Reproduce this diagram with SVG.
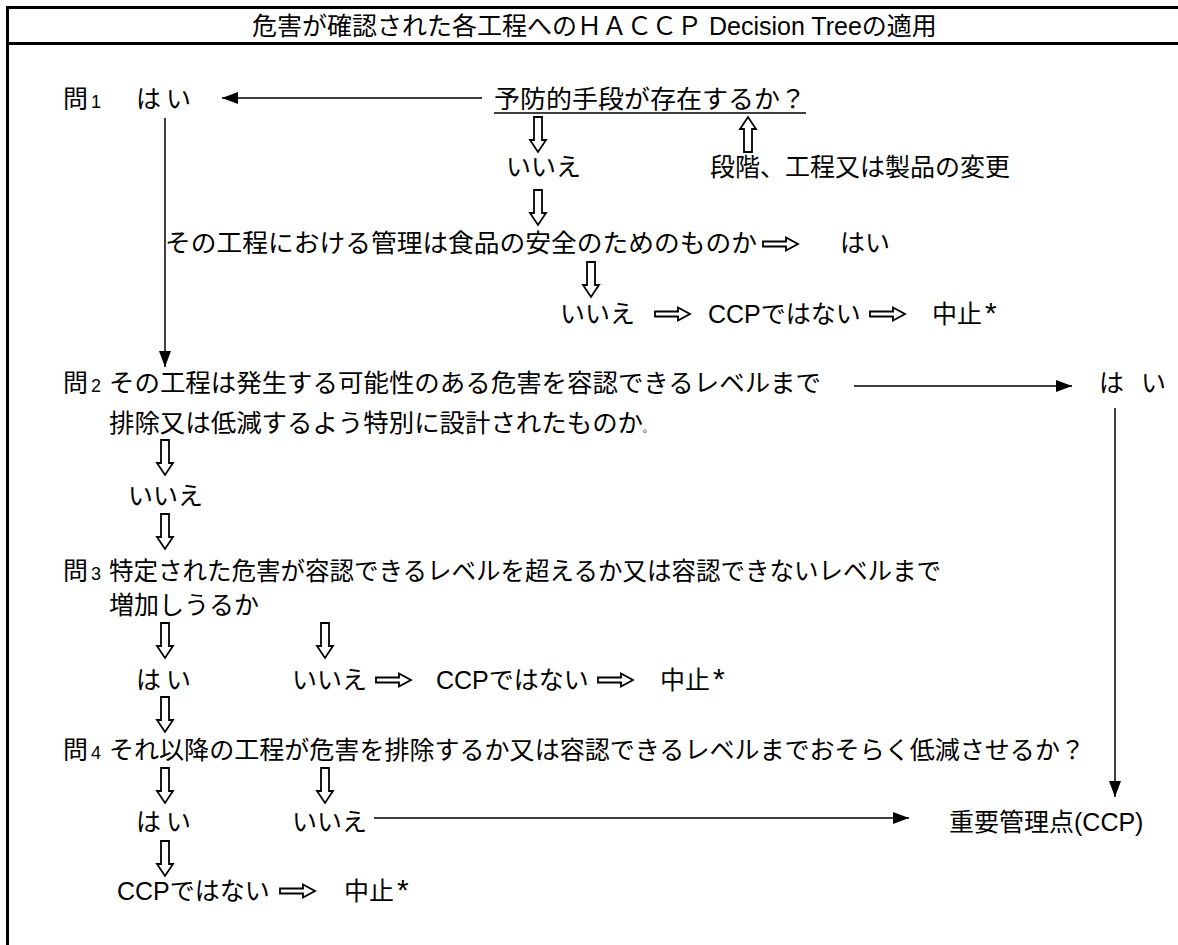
<svg xmlns="http://www.w3.org/2000/svg" width="1178" height="945" viewBox="0 0 1178 945">
<style>
text { font-family: "Liberation Sans", "Noto Sans CJK JP", sans-serif; font-size: 25px; fill: #000; }
.num { font-size: 18px; }
.ast { font-size: 30px; }
.frame { stroke: #000; stroke-width: 3; fill: none; }
.conn { stroke: #000; stroke-width: 1.5; fill: none; }
.hollow { stroke: #000; stroke-width: 1.8; fill: #fff; }
</style>
<defs>
<marker id="ah" viewBox="0 0 16 12" refX="16" refY="6" markerWidth="16" markerHeight="12" markerUnits="userSpaceOnUse" orient="auto">
<path d="M0,0 L16,6 L0,12 Z" fill="#000"/>
</marker>
<path id="hd" d="M-4,0 H4 V23 H8 L0,35 L-8,23 H-4 Z"/>
<path id="hu" d="M-4,35 H4 V12 H8 L0,0 L-8,12 H-4 Z"/>
<path id="hr" d="M0,-2.5 H23 V-6.5 L35,0 L23,6.5 V2.5 H0 Z"/>
</defs>

<g id="frame">
<line class="frame" x1="6" y1="7.5" x2="1178" y2="7.5"/>
<line class="frame" x1="6" y1="43.5" x2="1178" y2="43.5"/>
<line class="frame" x1="7.5" y1="6" x2="7.5" y2="945"/>
</g>

<g id="title"><text x="252" y="35">危害が確認された各工程へのＨＡＣＣＰ Decision Treeの適用</text></g>

<g id="connectors">
<line class="conn" x1="482" y1="98" x2="222" y2="98" marker-end="url(#ah)"/>
<line class="conn" x1="165" y1="118" x2="165" y2="367" marker-end="url(#ah)"/>
<line class="conn" x1="854" y1="386" x2="1072" y2="386" marker-end="url(#ah)"/>
<line class="conn" x1="1115" y1="408" x2="1115" y2="797" marker-end="url(#ah)"/>
<line class="conn" x1="374" y1="818" x2="909" y2="818" marker-end="url(#ah)"/>
<use href="#hd" class="hollow" x="538" y="117"/>
<use href="#hu" class="hollow" x="748" y="117"/>
<use href="#hd" class="hollow" x="538" y="190"/>
<use href="#hr" class="hollow" x="763" y="244"/>
<use href="#hd" class="hollow" x="591" y="262"/>
<use href="#hr" class="hollow" x="655" y="314"/>
<use href="#hr" class="hollow" x="870" y="314"/>
<use href="#hd" class="hollow" x="165" y="440"/>
<use href="#hd" class="hollow" x="165" y="514"/>
<use href="#hd" class="hollow" x="165" y="623"/>
<use href="#hd" class="hollow" x="325" y="623"/>
<use href="#hr" class="hollow" x="376" y="680"/>
<use href="#hr" class="hollow" x="598" y="680"/>
<use href="#hd" class="hollow" x="165" y="697"/>
<use href="#hd" class="hollow" x="165" y="768"/>
<use href="#hd" class="hollow" x="325" y="768"/>
<use href="#hd" class="hollow" x="165" y="841"/>
<use href="#hr" class="hollow" x="280" y="891"/>
</g>

<g id="q1">
<text x="63" y="108">問<tspan class="num" dx="3">1</tspan></text>
<text x="136" y="108">は</text><text x="166" y="108">い</text>
<text x="494" y="108" textLength="312" lengthAdjust="spacingAndGlyphs">予防的手段が存在するか？</text>
<line x1="494" y1="113" x2="806" y2="113" stroke="#000" stroke-width="1.5"/>
</g>
<g id="q1-no"><text x="506" y="176">いいえ</text></g>
<g id="q1-change"><text x="710" y="176">段階、工程又は製品の変更</text></g>
<g id="q1b">
<text x="165" y="252" textLength="592" lengthAdjust="spacingAndGlyphs">その工程における管理は食品の安全のためのものか</text>
<text x="840" y="252">はい</text>
</g>
<g id="q1b-no">
<text x="560" y="323">いいえ</text>
<text x="708" y="323">CCPではない</text>
<text x="932" y="323">中止<tspan class="ast" dx="3">*</tspan></text>
</g>
<g id="q2">
<text x="63" y="392">問<tspan class="num" dx="3">2</tspan></text>
<text x="109" y="392" textLength="712" lengthAdjust="spacingAndGlyphs">その工程は発生する可能性のある危害を容認できるレベルまで</text>
<text x="109" y="432"><tspan textLength="534" lengthAdjust="spacingAndGlyphs">排除又は低減するよう特別に設計されたものか</tspan><tspan font-size="10">。</tspan></text>
</g>
<g id="q2-yes"><text x="1099" y="392">は</text><text x="1141" y="392">い</text></g>
<g id="q2-no"><text x="128" y="505">いいえ</text></g>
<g id="q3">
<text x="63" y="580">問<tspan class="num" dx="3">3</tspan></text>
<text x="109" y="580" textLength="832" lengthAdjust="spacingAndGlyphs">特定された危害が容認できるレベルを超えるか又は容認できないレベルまで</text>
<text x="109" y="614">増加しうるか</text>
</g>
<g id="q3-yes"><text x="136" y="689">は</text><text x="166" y="689">い</text></g>
<g id="q3-no">
<text x="292" y="689">いいえ</text>
<text x="436" y="689">CCPではない</text>
<text x="660" y="689">中止<tspan class="ast" dx="3">*</tspan></text>
</g>
<g id="q4">
<text x="63" y="759">問<tspan class="num" dx="3">4</tspan></text>
<text x="109" y="759" textLength="976" lengthAdjust="spacingAndGlyphs">それ以降の工程が危害を排除するか又は容認できるレベルまでおそらく低減させるか？</text>
</g>
<g id="q4-yes"><text x="136" y="831">は</text><text x="166" y="831">い</text></g>
<g id="q4-no"><text x="292" y="831">いいえ</text></g>
<g id="ccp"><text x="949" y="831">重要管理点(CCP)</text></g>
<g id="q4-stop">
<text x="117" y="900">CCPではない</text>
<text x="344" y="900">中止<tspan class="ast" dx="3">*</tspan></text>
</g>
</svg>
